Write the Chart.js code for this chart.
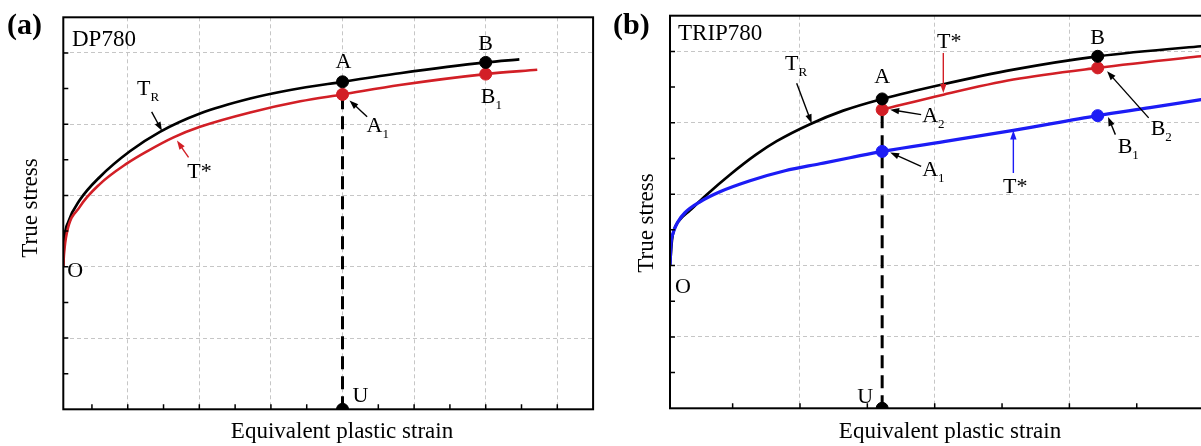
<!DOCTYPE html>
<html>
<head>
<meta charset="utf-8">
<script src="https://cdn.jsdelivr.net/npm/chart.js@4.4.0/dist/chart.umd.min.js"></script>
<style>
  html, body { margin: 0; padding: 0; background: #fff; }
  #page { position: relative; width: 1201px; height: 446px; overflow: hidden; background: #fff; }
  #wrapA { position: absolute; left: 0; top: 0; }
  #wrapB { position: absolute; left: 610px; top: 0; }
</style>
</head>
<body>
<div id="page">
  <div id="wrapA"><canvas id="chartA" width="610" height="446"></canvas></div>
  <div id="wrapB"><canvas id="chartB" width="680" height="446"></canvas></div>
</div>
<script>
// ---------- panel (a) DP780 ----------
const aBlackX = [0.01, 0.0105, 0.017, 0.033, 0.061, 0.103, 0.145, 0.201, 0.271, 0.327, 0.40, 0.48, 0.60, 0.647];
const aBlackY = [200, 222, 263, 293.5, 326, 362, 389.3, 415, 436, 448, 459.5, 471.5, 486.7, 491];
const aRedX = [0.01, 0.011, 0.0148, 0.033, 0.061, 0.099, 0.127, 0.164, 0.201, 0.271, 0.341, 0.40, 0.48, 0.60, 0.672];
const aRedY = [200, 218, 246.8, 284, 316, 345, 362, 381.6, 396.4, 416.5, 432.2, 441.8, 455, 470.3, 476.3];
const aBlackDotX = [0.40, 0.60, 0.40];   // A, B, U
const aBlackDotY = [459.5, 486.7, 0];
const aRedDotX = [0.40, 0.60];           // A1, B1
const aRedDotY = [441.8, 470.3];
const aGridX = [0.1, 0.2, 0.3, 0.4, 0.5, 0.6, 0.7];
const aMinorX = [0.05, 0.1, 0.15, 0.2, 0.25, 0.3, 0.35, 0.4, 0.45, 0.5, 0.55, 0.6, 0.65, 0.7];

// ---------- panel (b) TRIP780 ----------
const bBlackX = [0.0035, 0.005, 0.0065, 0.0097, 0.0184, 0.0307, 0.048, 0.0673, 0.0827, 0.1074, 0.1321, 0.161, 0.2064, 0.2584, 0.321, 0.3977, 0.41];
const bBlackY = [200, 236, 250, 261.7, 277.4, 299.2, 327.2, 355.3, 374.2, 398, 417, 433.4, 454, 474.5, 493.1, 507.2, 509];
const bRedX = [0.161, 0.2064, 0.2584, 0.321, 0.3977, 0.41];
const bRedY = [418.4, 439.4, 460.5, 476.9, 493.1, 495.5];
const bBlueX = [0.0035, 0.0042, 0.0059, 0.0094, 0.0146, 0.0258, 0.0406, 0.0629, 0.0889, 0.1148, 0.1371, 0.161, 0.2114, 0.2584, 0.321, 0.3598, 0.3977, 0.41];
const bBlueY = [200, 229, 246, 261.3, 274, 289.3, 303.4, 318.8, 332.8, 342.6, 351, 359.9, 374.9, 389.3, 410, 421.2, 432.4, 436];
const bBlackDotX = [0.161, 0.321, 0.161]; // A, B, U
const bBlackDotY = [433.4, 493.1, 0];
const bRedDotX = [0.161, 0.321];          // A2, B2
const bRedDotY = [418.4, 476.9];
const bBlueDotX = [0.161, 0.321];         // A1, B1
const bBlueDotY = [359.9, 410];
const bGridX = [0.1, 0.2, 0.3, 0.4];
const bMinorX = [0.05, 0.1, 0.15, 0.2, 0.25, 0.3, 0.35, 0.4, 0.45];

// shared stress axis
const gridY = [100, 200, 300, 400, 500];
const minorY = [50, 100, 150, 200, 250, 300, 350, 400, 450, 500];

const RED = '#d21f26';
const BLUE = '#1c1cf5';
const serif = '"Liberation Serif", "Times New Roman", serif';

const pts = (xs, ys) => xs.map((x, i) => ({ x: x, y: ys[i] }));

// lower order is drawn on top
function curve(xs, ys, color, width, order) {
  return {
    data: pts(xs, ys), borderColor: color, borderWidth: width,
    pointRadius: 0, cubicInterpolationMode: 'monotone', fill: false, order: order
  };
}

function dots(xs, ys, color) {
  return {
    data: pts(xs, ys), showLine: false, pointRadius: 6, pointBorderWidth: 1,
    pointBackgroundColor: color, pointBorderColor: color, clip: 0, order: 0
  };
}

function dashed(x, yTop) {
  return {
    data: [{ x: x, y: 0 }, { x: x, y: yTop }], borderColor: '#000', borderWidth: 3,
    borderDash: [13, 7], pointRadius: 0, fill: false, order: 3
  };
}

function arrow(ctx, x1, y1, x2, y2, color) {
  const ang = Math.atan2(y2 - y1, x2 - x1);
  const head = 9, w = 3.2;
  const c = Math.cos(ang), s = Math.sin(ang);
  ctx.strokeStyle = color;
  ctx.fillStyle = color;
  ctx.lineWidth = 1.4;
  ctx.beginPath();
  ctx.moveTo(x1, y1);
  ctx.lineTo(x2 - head * c * 0.8, y2 - head * s * 0.8);
  ctx.stroke();
  ctx.beginPath();
  ctx.moveTo(x2, y2);
  ctx.lineTo(x2 - head * c + w * s, y2 - head * s - w * c);
  ctx.lineTo(x2 - head * c - w * s, y2 - head * s + w * c);
  ctx.closePath();
  ctx.fill();
}

function label(ctx, txt, sub, x, y, align) {
  ctx.fillStyle = '#000';
  ctx.textBaseline = 'alphabetic';
  ctx.textAlign = 'left';
  ctx.font = '22px ' + serif;
  const w = ctx.measureText(txt).width;
  let subW = 0;
  if (sub) { ctx.font = '13px ' + serif; subW = ctx.measureText(sub).width; }
  const left = align === 'center' ? x - w / 2 : (align === 'right' ? x - w - subW : x);
  ctx.font = '22px ' + serif;
  ctx.fillText(txt, left, y);
  if (sub) { ctx.font = '13px ' + serif; ctx.fillText(sub, left + w, y + 6); }
}

function decor(p) {
  return {
    id: 'decor',
    afterDatasetsDraw(chart) {
      const ctx = chart.ctx, xs = chart.scales.x, ys = chart.scales.y, a = chart.chartArea;
      ctx.save();
      // frame
      ctx.strokeStyle = '#000';
      ctx.lineWidth = 2;
      ctx.strokeRect(a.left, a.top, a.right - a.left, a.bottom - a.top);
      // inward ticks on left and bottom axes
      ctx.lineWidth = 1.5;
      ctx.beginPath();
      p.minorX.forEach(v => { const x = xs.getPixelForValue(v); ctx.moveTo(x, a.bottom); ctx.lineTo(x, a.bottom - 5); });
      p.minorY.forEach(v => { const y = ys.getPixelForValue(v); ctx.moveTo(a.left, y); ctx.lineTo(a.left + 5, y); });
      ctx.stroke();
      // point labels and arrows (arrow colour follows the curve, text stays black)
      p.notes.forEach(n => {
        const px = xs.getPixelForValue(n.at[0]), py = ys.getPixelForValue(n.at[1]);
        if (n.arrow) arrow(ctx, px + n.arrow[0], py + n.arrow[1], px + n.arrow[2], py + n.arrow[3], n.color || '#000');
        label(ctx, n.text, n.sub, px + n.dx, py + n.dy, n.align || 'left');
      });
      // panel tag
      ctx.fillStyle = '#000';
      ctx.textAlign = 'left';
      ctx.textBaseline = 'alphabetic';
      ctx.font = 'bold 30px ' + serif;
      ctx.fillText(p.tag, p.tagPos[0], p.tagPos[1]);
      // steel grade
      ctx.font = '23px ' + serif;
      ctx.fillText(p.grade, p.gradePos[0], p.gradePos[1]);
      // axis titles
      ctx.textAlign = 'center';
      ctx.fillText('Equivalent plastic strain', p.xTitle[0], p.xTitle[1]);
      ctx.translate(p.yTitle[0], p.yTitle[1]);
      ctx.rotate(-Math.PI / 2);
      ctx.fillText('True stress', 0, 0);
      ctx.restore();
    }
  };
}

function makeChart(id, datasets, xMin, xMax, gridX, padding, p) {
  return new Chart(document.getElementById(id), {
    type: 'line',
    data: { datasets: datasets },
    options: {
      responsive: false,
      animation: false,
      events: [],
      layout: { padding: padding },
      plugins: { legend: { display: false }, tooltip: { enabled: false } },
      scales: {
        x: {
          type: 'linear', min: xMin, max: xMax,
          afterBuildTicks: s => { s.ticks = gridX.map(v => ({ value: v })); },
          afterFit: s => { s.height = 0; },
          ticks: { display: false },
          grid: { color: '#c6c6c6', lineWidth: 1, drawTicks: false },
          border: { display: false, dash: [4, 3] }
        },
        y: {
          type: 'linear', min: 0, max: 550,
          afterBuildTicks: s => { s.ticks = gridY.map(v => ({ value: v })); },
          afterFit: s => { s.width = 0; },
          ticks: { display: false },
          grid: { color: '#c6c6c6', lineWidth: 1, drawTicks: false },
          border: { display: false, dash: [4, 3] }
        }
      }
    },
    plugins: [decor(p)]
  });
}

// panel (a)
makeChart('chartA', [
  dots(aBlackDotX, aBlackDotY, '#000'),
  dots(aRedDotX, aRedDotY, RED),
  curve(aBlackX, aBlackY, '#000', 2.7, 2),
  curve(aRedX, aRedY, RED, 2.6, 1),
  dashed(aBlackDotX[2], aRedDotY[0])
], 0.01, 0.75, aGridX, { left: 63.3, top: 17.3, right: 16.9, bottom: 36.7 }, {
  minorX: aMinorX, minorY: minorY,
  tag: '(a)', tagPos: [7, 34], grade: 'DP780', gradePos: [72, 46],
  xTitle: [342, 438], yTitle: [36.5, 208],
  notes: [
    { at: [aBlackDotX[0], aBlackDotY[0]], text: 'A', dx: 1, dy: -14, align: 'center' },
    { at: [aBlackDotX[1], aBlackDotY[1]], text: 'B', dx: 0, dy: -12, align: 'center' },
    { at: [aRedDotX[0], aRedDotY[0]], text: 'A', sub: '1', dx: 24, dy: 38, arrow: [24.6, 22.4, 7, 6] },
    { at: [aRedDotX[1], aRedDotY[1]], text: 'B', sub: '1', dx: -5, dy: 29 },
    { at: [aBlackX[0], aBlackY[0]], text: 'O', dx: 4, dy: 10 },
    { at: [aBlackDotX[2], aBlackDotY[2]], text: 'U', dx: 10, dy: -7 },
    { at: [aBlackX[6], aBlackY[6]], text: 'T', sub: 'R', dx: -23, dy: -36.7, arrow: [-8.3, -20, 2, -1] },
    { at: [aRedX[7], aRedY[7]], text: 'T*', dx: 13.7, dy: 40.3, color: RED, arrow: [15, 20, 3.4, 3.3] }
  ]
});

// panel (b)
makeChart('chartB', [
  dots(bBlackDotX, bBlackDotY, '#000'),
  dots(bRedDotX, bRedDotY, RED),
  dots(bBlueDotX, bBlueDotY, BLUE),
  curve(bBlackX, bBlackY, '#000', 2.7, 2),
  curve(bRedX, bRedY, RED, 2.6, 1),
  curve(bBlueX, bBlueY, BLUE, 3.3, 1),
  dashed(bBlackDotX[2], bRedDotY[0])
], 0.0035, 0.45, bGridX, { left: 60, top: 15.7, right: 18.55, bottom: 37.7 }, {
  minorX: bMinorX, minorY: minorY,
  tag: '(b)', tagPos: [3, 34], grade: 'TRIP780', gradePos: [68, 40],
  xTitle: [340, 438], yTitle: [43, 223],
  notes: [
    { at: [bBlackDotX[0], bBlackDotY[0]], text: 'A', dx: 0, dy: -16, align: 'center' },
    { at: [bBlackDotX[1], bBlackDotY[1]], text: 'B', dx: 0, dy: -12, align: 'center' },
    { at: [bRedDotX[0], bRedDotY[0]], text: 'A', sub: '2', dx: 40, dy: 12, arrow: [39, 5, 8, 0] },
    { at: [bBlueDotX[0], bBlueDotY[0]], text: 'A', sub: '1', dx: 40, dy: 25, arrow: [39, 15, 8, 1] },
    { at: [bRedDotX[1], bRedDotY[1]], text: 'B', sub: '2', dx: 53, dy: 67, arrow: [51, 50, 9.4, 3.4] },
    { at: [bBlueDotX[1], bBlueDotY[1]], text: 'B', sub: '1', dx: 20, dy: 37, arrow: [17.7, 19, 10.4, 1.3] },
    { at: [bBlackX[0], bBlackY[0]], text: 'O', dx: 5, dy: 27 },
    { at: [bBlackDotX[2], bBlackDotY[2]], text: 'U', dx: -9, dy: -5, align: 'right' },
    { at: [bBlackX[9], bBlackY[9]], text: 'T', sub: 'R', dx: -25, dy: -54.7, arrow: [-13.3, -41, 1.7, -1] },
    { at: [bRedX[1], bRedY[1]], text: 'T*', dx: -6.3, dy: -47, color: RED, arrow: [0, -41.7, 0, -1.7] },
    { at: [bBlueX[13], bBlueY[13]], text: 'T*', dx: -10.3, dy: 62.3, color: BLUE, arrow: [0, 42.6, 0, 0] }
  ]
});
</script>
</body>
</html>
